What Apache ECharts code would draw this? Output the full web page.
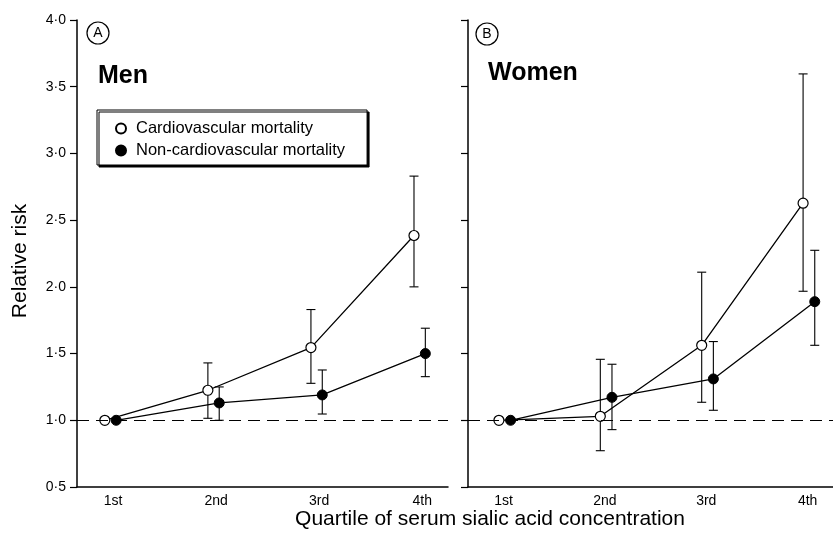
<!DOCTYPE html>
<html>
<head>
<meta charset="utf-8">
<script src="https://cdn.jsdelivr.net/npm/echarts@6/dist/echarts.min.js"></script>
<style>
html,body{margin:0;padding:0;background:#fff;}
#chart{width:833px;height:536px;}
</style>
</head>
<body>
<div id="chart"></div>
<script>
// ---- data ----
const quartiles = ['1st', '2nd', '3rd', '4th'];
const quartilePos = [1, 2, 3, 4];

const menCardio      = [1.00, 1.225, 1.545, 2.385];
const menCardioLow   = [null, 1.015, 1.277, 2.00];
const menCardioHigh  = [null, 1.43, 1.83, 2.83];

const menNonCardio     = [1.00, 1.13, 1.19, 1.50];
const menNonCardioLow  = [null, 1.00, 1.047, 1.327];
const menNonCardioHigh = [null, 1.25, 1.377, 1.69];

const womenCardio     = [1.00, 1.03, 1.562, 2.627];
const womenCardioLow  = [null, 0.772, 1.135, 1.967];
const womenCardioHigh = [null, 1.457, 2.11, 3.596];

const womenNonCardio     = [1.00, 1.172, 1.31, 1.889];
const womenNonCardioLow  = [null, 0.93, 1.075, 1.562];
const womenNonCardioHigh = [null, 1.42, 1.59, 2.274];

const seriesNames = ['Cardiovascular mortality', 'Non-cardiovascular mortality'];
const panelLabels = ['A', 'B'];
const panelTitles = ['Men', 'Women'];
const xTitle = 'Quartile of serum sialic acid concentration';
const yTitle = 'Relative risk';

// ---- build ----
const FONT = '"Liberation Sans", Arial, Helvetica, sans-serif';
const dodge = [[-0.08, 0.03], [-0.045, 0.07]];

function pts(vals, d) { return vals.map((v, i) => [quartilePos[i] + d, v]); }
function bars(lo, hi, d) {
  const out = [];
  lo.forEach((l, i) => { if (l != null && hi[i] != null) out.push([quartilePos[i] + d, l, hi[i]]); });
  return out;
}
function errRender(params, api) {
  const x = api.value(0), lo = api.value(1), hi = api.value(2);
  const a = api.coord([x, lo]), b = api.coord([x, hi]);
  const w = 4.5;
  const st = { stroke: '#000', lineWidth: 1.1 };
  return { type: 'group', children: [
    { type: 'line', shape: { x1: a[0], y1: a[1], x2: b[0], y2: b[1] }, style: st },
    { type: 'line', shape: { x1: a[0] - w, y1: a[1], x2: a[0] + w, y2: a[1] }, style: st },
    { type: 'line', shape: { x1: b[0] - w, y1: b[1], x2: b[0] + w, y2: b[1] }, style: st }
  ]};
}

const panels = [
  { c: menCardio, cl: menCardioLow, ch: menCardioHigh, n: menNonCardio, nl: menNonCardioLow, nh: menNonCardioHigh },
  { c: womenCardio, cl: womenCardioLow, ch: womenCardioHigh, n: womenNonCardio, nl: womenNonCardioLow, nh: womenNonCardioHigh }
];

const series = [];
panels.forEach((p, k) => {
  const [dc, dn] = dodge[k];
  series.push({
    type: 'custom', xAxisIndex: k, yAxisIndex: k, z: 1, silent: true,
    renderItem: errRender, encode: { x: 0, y: [1, 2] },
    data: bars(p.cl, p.ch, dc).concat(bars(p.nl, p.nh, dn)),
    markLine: {
      silent: true, symbol: 'none', label: { show: false },
      lineStyle: { color: '#000', width: 1, type: [12, 7] },
      data: [{ yAxis: 1 }]
    }
  });
  series.push({
    name: seriesNames[1], type: 'line', xAxisIndex: k, yAxisIndex: k, z: 3,
    data: pts(p.n, dn), symbol: 'circle', symbolSize: 10,
    lineStyle: { color: '#000', width: 1.3 },
    itemStyle: { color: '#000', borderColor: '#000', borderWidth: 1 },
    emphasis: { disabled: true }
  });
  series.push({
    name: seriesNames[0], type: 'line', xAxisIndex: k, yAxisIndex: k, z: 4,
    data: pts(p.c, dc), symbol: 'circle', symbolSize: 10,
    lineStyle: { color: '#000', width: 1.3 },
    itemStyle: { color: '#fff', borderColor: '#000', borderWidth: 1.2 },
    emphasis: { disabled: true }
  });
});

const fmtY = v => v.toFixed(1).replace('.', '\u00b7');

function xAxis(k) {
  return {
    type: 'value', gridIndex: k, min: 0.65, max: 4.25,
    axisLine: { show: true, lineStyle: { color: '#000', width: 1.5 } },
    axisTick: { show: false }, splitLine: { show: false },
    axisLabel: {
      customValues: quartilePos, color: '#000', fontSize: 14, fontFamily: FONT, margin: 7,
      formatter: v => quartiles[Math.round(v) - 1]
    }
  };
}
function yAxis(k) {
  return {
    type: 'value', gridIndex: k, min: 0.5, max: 4.0, interval: 0.5,
    axisLine: { show: true, lineStyle: { color: '#000', width: 1.5 } },
    axisTick: { show: true, length: 7, lineStyle: { color: '#000', width: 1.2 } },
    splitLine: { show: false },
    axisLabel: { show: k === 0, color: '#000', fontSize: 14, fontFamily: FONT, margin: 11, formatter: fmtY }
  };
}

const option = {
  animation: false,
  backgroundColor: '#fff',
  grid: [
    { left: 77, top: 20, width: 371, height: 467 },
    { left: 468, top: 20, right: 0, height: 467 }
  ],
  xAxis: [xAxis(0), xAxis(1)],
  yAxis: [yAxis(0), yAxis(1)],
  legend: {
    orient: 'vertical', left: 97, top: 110,
    data: seriesNames, icon: 'circle', itemWidth: 10, itemHeight: 10, itemGap: 5,
    padding: [10, 22, 6, 18],
    backgroundColor: '#fff', borderColor: '#000', borderWidth: 1,
    shadowColor: '#000', shadowBlur: 0, shadowOffsetX: 2, shadowOffsetY: 2,
    textStyle: { color: '#000', fontSize: 16.5, fontFamily: FONT, padding: [0, 0, 0, 5] },
    selectedMode: false
  },
  graphic: [
    { type: 'circle', shape: { cx: 98, cy: 33, r: 11 }, style: { fill: '#fff', stroke: '#000', lineWidth: 1.2 } },
    { type: 'text', x: 98, y: 33, style: { text: panelLabels[0], font: '14px ' + FONT, fill: '#000', align: 'center', verticalAlign: 'middle' } },
    { type: 'circle', shape: { cx: 487, cy: 34, r: 11 }, style: { fill: '#fff', stroke: '#000', lineWidth: 1.2 } },
    { type: 'text', x: 487, y: 34, style: { text: panelLabels[1], font: '14px ' + FONT, fill: '#000', align: 'center', verticalAlign: 'middle' } },
    { type: 'text', x: 98, y: 76, style: { text: panelTitles[0], font: 'bold 25px ' + FONT, fill: '#000', align: 'left', verticalAlign: 'middle' } },
    { type: 'text', x: 488, y: 73, style: { text: panelTitles[1], font: 'bold 25px ' + FONT, fill: '#000', align: 'left', verticalAlign: 'middle' } },
    { type: 'text', x: 490, y: 519, style: { text: xTitle, font: '21px ' + FONT, fill: '#000', align: 'center', verticalAlign: 'middle' } },
    { type: 'text', x: 20, y: 261, rotation: Math.PI / 2, style: { text: yTitle, font: '21px ' + FONT, fill: '#000', align: 'center', verticalAlign: 'middle' } }
  ],
  series: series
};

const chart = echarts.init(document.getElementById('chart'), null, { renderer: 'canvas' });
chart.setOption(option);
</script>
</body>
</html>
